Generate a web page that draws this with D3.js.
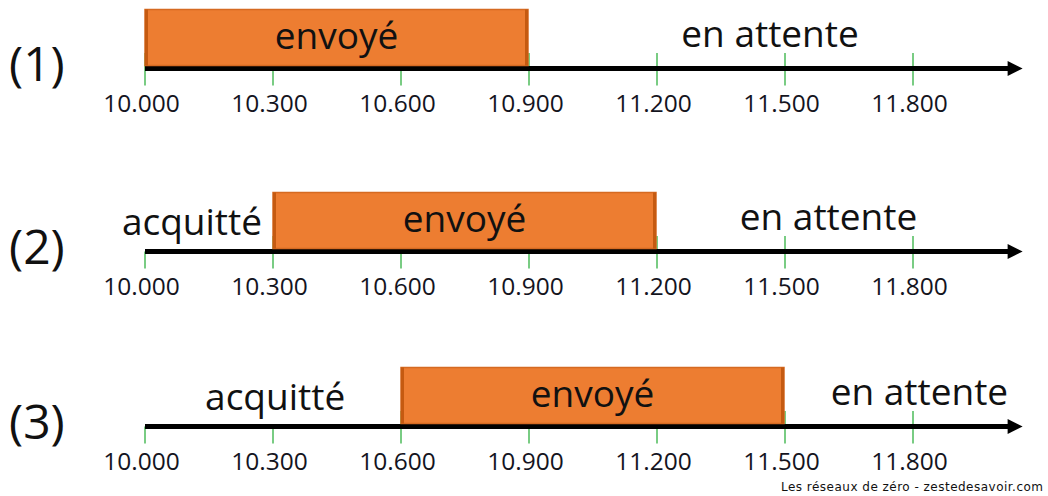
<!DOCTYPE html>
<html><head><meta charset="utf-8">
<script src="https://cdn.jsdelivr.net/npm/d3@7/dist/d3.min.js"></script>
<style>html,body{margin:0;padding:0;background:#fff;}svg{display:block;}</style>
</head><body>
<svg id="chart" width="1048" height="496"></svg>
<script>
// ---- data ----
const rowLabels = ["(1)", "(2)", "(3)"];
const sentStart = [10000, 10300, 10600];
const sentEnd   = [10900, 11200, 11500];
const tickValues = [10000, 10300, 10600, 10900, 11200, 11500, 11800];
const tickLabels = ["10.000", "10.300", "10.600", "10.900", "11.200", "11.500", "11.800"];
const sentText = "envoyé";
const ackText = "acquitté";
const waitText = "en attente";
const footer = "Les réseaux de zéro - zestedesavoir.com";

// ---- layout ----
const rowY = [68.5, 251.5, 426.5];
const axisEndValue = 12057;
const waitLabelAt = [11465, 11602, 11815];
const ackLabelAt = [null, 10110, 10305];

const svg = d3.select("#chart");
const x = d3.scaleLinear().domain([10000, 11800]).range([145, 913]);
const FONT = "'Open Sans', sans-serif";

rowLabels.forEach((lab, i) => {
  const g = svg.append("g");
  const ay = rowY[i];
  // row label
  g.append("text").attr("x", 9).attr("y", ay + 12)
    .attr("font-family", FONT).attr("font-size", 48).attr("fill", "#111").text(lab);
  // ticks
  g.selectAll("line.tick").data(tickValues).join("line")
    .attr("class", "tick")
    .attr("x1", d => x(d)).attr("x2", d => x(d))
    .attr("y1", d => d < sentStart[i] ? ay : ay - 15.5)
    .attr("y2", ay + 17)
    .attr("stroke", "#4cbb5a").attr("stroke-width", 1.5);
  // tick labels
  g.selectAll("text.tl").data(tickValues).join("text")
    .attr("class", "tl")
    .attr("x", d => x(d) - 3.5).attr("y", ay + 43)
    .attr("text-anchor", "middle")
    .attr("font-family", FONT).attr("font-size", 24.5).attr("fill", "#14141e")
    .text((d, k) => tickLabels[k]);
  // axis line with arrow
  const xEnd = x(axisEndValue);
  g.append("line").attr("x1", x(10000)).attr("x2", xEnd - 12)
    .attr("y1", ay).attr("y2", ay).attr("stroke", "#000").attr("stroke-width", 5);
  g.append("path")
    .attr("d", `M${xEnd - 15},${ay - 7.5} L${xEnd},${ay} L${xEnd - 15},${ay + 7.5} Z`)
    .attr("fill", "#000");
  // sent bar
  const bx0 = x(sentStart[i]), bx1 = x(sentEnd[i]) - 1;
  g.append("rect").attr("x", bx0).attr("y", ay - 59)
    .attr("width", bx1 - bx0).attr("height", 56)
    .attr("fill", "#ED7D31").attr("stroke", "#D56A22").attr("stroke-width", 1.5);
  g.append("rect").attr("x", bx0).attr("y", ay - 59).attr("width", 3).attr("height", 56).attr("fill", "#C55A11");
  g.append("rect").attr("x", bx1 - 3).attr("y", ay - 59).attr("width", 3).attr("height", 56).attr("fill", "#C55A11");
  g.append("text").attr("x", (bx0 + bx1) / 2).attr("y", ay - 20)
    .attr("text-anchor", "middle").attr("font-family", FONT).attr("font-size", 37)
    .attr("fill", "#111").text(sentText);
  // waiting label
  g.append("text").attr("x", x(waitLabelAt[i])).attr("y", ay - 22)
    .attr("text-anchor", "middle").attr("font-family", FONT).attr("font-size", 37)
    .attr("fill", "#111").text(waitText);
  // acked label
  if (ackLabelAt[i] !== null) {
    g.append("text").attr("x", x(ackLabelAt[i])).attr("y", ay - 17)
      .attr("text-anchor", "middle").attr("font-family", FONT).attr("font-size", 37)
      .attr("fill", "#111").text(ackText);
  }
});

svg.append("text").attr("x", 1043).attr("y", 491).attr("text-anchor", "end")
  .attr("font-family", "'DejaVu Sans', sans-serif").attr("font-size", 12)
  .attr("textLength", 262).attr("lengthAdjust", "spacing")
  .attr("fill", "#111").text(footer);
</script>
</body></html>
